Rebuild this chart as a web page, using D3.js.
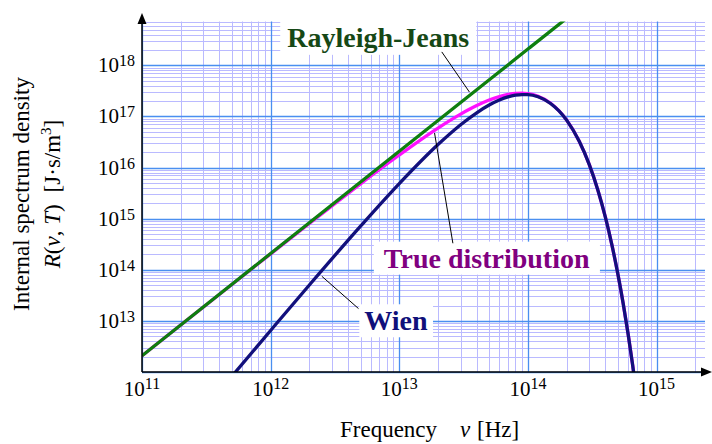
<!DOCTYPE html>
<html><head><meta charset="utf-8">
<script src="https://cdn.jsdelivr.net/npm/d3@7"></script>
<style>
html,body{margin:0;padding:0;background:#fff;}
svg{display:block;}
text{font-family:"Liberation Serif","Times New Roman",serif;}
</style></head>
<body>
<svg id="chart" width="712" height="444"></svg>
<script>
// ---------- data ----------
const frequency = [1e11, 2e11, 5e11, 1e12, 2e12, 5e12, 1e13, 2e13, 3e13, 4e13, 5e13, 6e13, 7e13, 8e13, 9e13, 1e14, 1.2e14, 1.5e14, 2e14, 2.5e14, 3e14, 3.5e14, 4e14, 4.5e14, 5e14, 5.5e14, 6e14, 6.5e14, 7e14];
const trueDistribution = [2.08e12, 8.30e12, 5.16e13, 2.05e14, 8.06e14, 4.80e15, 1.76e16, 5.93e16, 1.11e17, 1.63e17, 2.09e17, 2.45e17, 2.69e17, 2.82e17, 2.84e17, 2.78e17, 2.47e17, 1.81e17, 8.49e16, 3.30e16, 1.14e16, 3.60e15, 1.07e15, 3.04e14, 8.30e13, 2.20e13, 5.70e12, 1.44e12, 3.59e11];
const wien = [6.69e9, 5.34e10, 8.26e11, 6.50e12, 5.04e13, 7.14e14, 4.86e15, 2.82e16, 6.89e16, 1.18e17, 1.67e17, 2.09e17, 2.41e17, 2.60e17, 2.68e17, 2.67e17, 2.42e17, 1.79e17, 8.48e16, 3.30e16, 1.14e16, 3.60e15, 1.07e15, 3.04e14, 8.30e13, 2.20e13, 5.70e12, 1.44e12, 3.59e11];
const rjFrequency = [1e11, 1e12, 1e13, 1e14, 2e14];
const rayleighJeans = [2.08e12, 2.08e14, 2.08e16, 2.08e18, 8.32e18];
const xTickExponents = [11, 12, 13, 14, 15];
const yTickExponents = [13, 14, 15, 16, 17, 18];
const xDomain = [1e11, 2.38e15];
const yDomain = [1e12, 7.2e18];

// ---------- layout ----------
const svg = d3.select("#chart");
const pLeft = 142, pRight = 705, pTop = 21.5, pBottom = 372;
const x = d3.scaleLog().domain(xDomain).range([pLeft, pRight]);
const y = d3.scaleLog().domain(yDomain).range([pBottom, pTop]);

// ---------- grid ----------
function gridValues(domain) {
  const vals = [];
  const lo = Math.floor(Math.log10(domain[0])), hi = Math.ceil(Math.log10(domain[1]));
  for (let e = lo; e <= hi; e++) for (let k = 1; k <= 9; k++) {
    const v = k * Math.pow(10, e);
    if (v >= domain[0] * 0.999 && v <= domain[1] * 1.001) vals.push({v, major: k === 1});
  }
  return vals;
}
const grid = svg.append("g");
const xg = gridValues(xDomain), yg = gridValues(yDomain);
const minorCol = "#babaff", majorCol = "#4a8ff0";
[false, true].forEach(maj => {
  grid.selectAll(null).data(xg.filter(d => d.major === maj)).join("line")
    .attr("x1", d => Math.round(x(d.v)) + 0.5).attr("x2", d => Math.round(x(d.v)) + 0.5)
    .attr("y1", pTop).attr("y2", pBottom)
    .attr("stroke", maj ? majorCol : minorCol).attr("stroke-width", maj ? 1.3 : 1);
  grid.selectAll(null).data(yg.filter(d => d.major === maj)).join("line")
    .attr("y1", d => Math.round(y(d.v)) + 0.5).attr("y2", d => Math.round(y(d.v)) + 0.5)
    .attr("x1", pLeft).attr("x2", pRight)
    .attr("stroke", maj ? majorCol : minorCol).attr("stroke-width", maj ? 1.3 : 1);
});

// ---------- curves ----------
svg.append("clipPath").attr("id", "plotclip").append("rect")
  .attr("x", pLeft).attr("y", pTop).attr("width", pRight - pLeft).attr("height", pBottom - pTop);
const curves = svg.append("g").attr("clip-path", "url(#plotclip)");
const line = d3.line().x(d => x(d[0])).y(d => y(d[1])).curve(d3.curveMonotoneX);
const series = [
  {f: frequency, v: trueDistribution, color: "#ff10ff"},
  {f: frequency, v: wien, color: "#12107c"},
  {f: rjFrequency, v: rayleighJeans, color: "#0f7f0f"}
];
series.forEach(s => {
  curves.append("path").datum(s.f.map((f, i) => [f, s.v[i]]))
    .attr("d", line).attr("fill", "none").attr("stroke", s.color)
    .attr("stroke-width", 3.3).attr("stroke-linejoin", "round");
});

// ---------- annotations ----------
const annotations = [
  {text: "Rayleigh-Jeans", color: "#164816", at: [6.86e12, 2.3e18], lead: [[2.14e13, 1.83e18], [3.51e13, 3.0e17]], padX: 7, padY: 2},
  {text: "True distribution", color: "#800080", at: [4.78e13, 1.1e14], lead: [[1.88e13, 4.75e16], [2.61e13, 3.3e14]], padX: 10, padY: 1},
  {text: "Wien", color: "#10107a", at: [9.42e12, 6.55e12], lead: [[2.5e12, 7.46e13], [4.82e12, 1.74e13]], padX: 5, padY: 1}
];
const ann = svg.append("g");
annotations.forEach(a => {
  const g = ann.append("g");
  const rect = g.append("rect").attr("fill", "#fff");
  const t = g.append("text").attr("x", x(a.at[0])).attr("y", y(a.at[1]))
    .attr("text-anchor", "middle").attr("font-size", 28).attr("font-weight", "bold")
    .attr("fill", a.color).text(a.text);
  const bb = t.node().getBBox();
  rect.attr("x", bb.x - a.padX).attr("y", bb.y - a.padY)
    .attr("width", bb.width + 2 * a.padX).attr("height", bb.height + 2 * a.padY);
  ann.append("line")
    .attr("x1", x(a.lead[0][0])).attr("y1", y(a.lead[0][1]))
    .attr("x2", x(a.lead[1][0])).attr("y2", y(a.lead[1][1]))
    .attr("stroke", "#000").attr("stroke-width", 1);
});

// ---------- axes ----------
const axes = svg.append("g");
axes.append("line").attr("x1", pLeft).attr("x2", pLeft).attr("y1", pBottom).attr("y2", 20)
  .attr("stroke", "#000").attr("stroke-width", 1.5);
axes.append("line").attr("x1", pLeft).attr("x2", 706).attr("y1", pBottom).attr("y2", pBottom)
  .attr("stroke", "#000").attr("stroke-width", 1.5);
axes.append("path").attr("d", `M${pLeft},13 L${pLeft - 4.5},24 L${pLeft + 4.5},24 Z`).attr("fill", "#000");
axes.append("path").attr("d", `M712,${pBottom} L701,${pBottom - 4.5} L701,${pBottom + 4.5} Z`).attr("fill", "#000");

// tick labels
const xt = axes.selectAll(null).data(xTickExponents).join("text")
  .attr("x", d => x(Math.pow(10, d))).attr("y", 396)
  .attr("text-anchor", "middle").attr("font-size", 21).attr("fill", "#000");
xt.append("tspan").text("10");
xt.append("tspan").attr("font-size", 16).attr("dy", -7).text(d => d);

const yt = axes.selectAll(null).data(yTickExponents).join("text")
  .attr("x", pLeft - 7).attr("y", d => y(Math.pow(10, d)) + 7)
  .attr("text-anchor", "end").attr("font-size", 21).attr("fill", "#000");
yt.append("tspan").text("10");
yt.append("tspan").attr("font-size", 16).attr("dy", -6).text(d => d);

// axis titles
axes.append("text").attr("x", 340).attr("y", 437).attr("font-size", 23).text("Frequency");
axes.append("text").attr("x", 460).attr("y", 437).attr("font-size", 23).attr("font-style", "italic").text("ν");
axes.append("text").attr("x", 477).attr("y", 437).attr("font-size", 23).text("[Hz]");

axes.append("text").attr("transform", "translate(29,194) rotate(-90)")
  .attr("text-anchor", "middle").attr("font-size", 23).text("Internal spectrum density");
const yTitle2 = axes.append("text").attr("transform", "translate(60,194) rotate(-90)")
  .attr("text-anchor", "middle").attr("font-size", 23);
yTitle2.append("tspan").attr("font-style", "italic").text("R");
yTitle2.append("tspan").text("(");
yTitle2.append("tspan").attr("font-style", "italic").text("ν");
yTitle2.append("tspan").text(", ");
yTitle2.append("tspan").attr("font-style", "italic").text("T");
yTitle2.append("tspan").text(")");
yTitle2.append("tspan").attr("dx", 12).text("[J·s/m");
yTitle2.append("tspan").attr("font-size", 15).attr("dy", -9).text("3");
yTitle2.append("tspan").attr("dy", 9).text("]");
</script>
</body></html>
